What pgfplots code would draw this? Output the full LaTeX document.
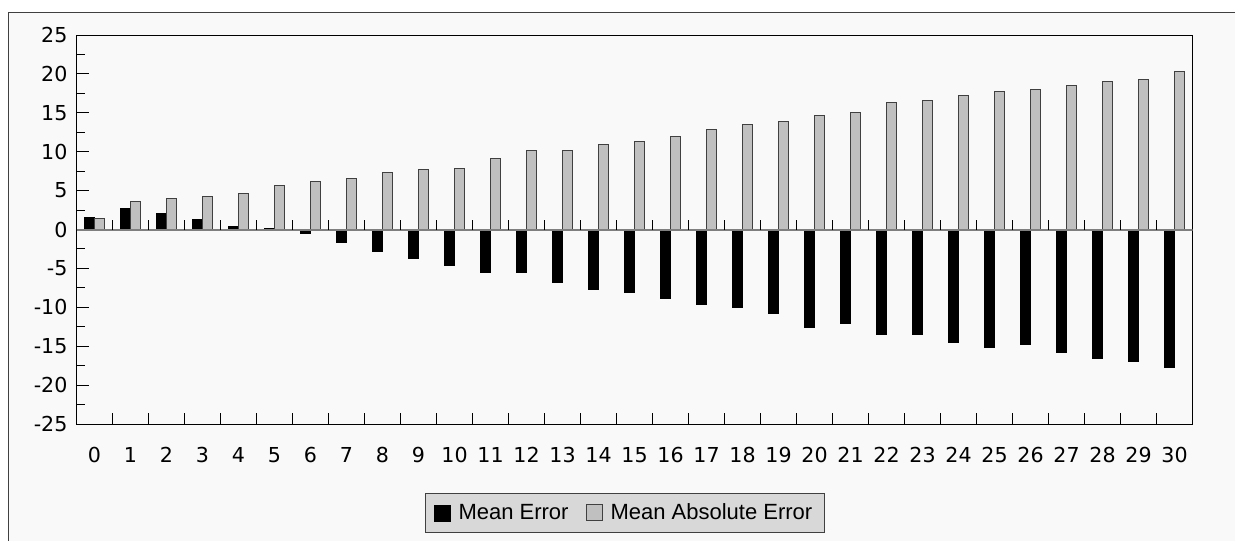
\documentclass[border=0pt]{standalone}
\usepackage{pgfplots}
\usepackage{pgfplotstable}
\pgfplotsset{compat=1.18}
\usepackage{fontspec}
\setmainfont{DejaVu Sans}
\newfontfamily\legendfont{Liberation Sans}
\definecolor{bgpanel}{HTML}{F9F9F9}
\definecolor{framegray}{HTML}{404040}
\definecolor{barlight}{HTML}{C0C0C0}
\definecolor{legfill}{HTML}{D8D8D8}
\definecolor{zerogray}{HTML}{7F7F7F}
\pgfplotsset{sqlegend/.style={legend image code/.code={\draw[##1] (0pt,-4pt) rectangle (8pt,4pt);}}}

\pgfplotstableread{
x me mae
0 1.50 1.45
1 2.74 3.60
2 2.06 4.03
3 1.24 4.29
4 0.39 4.67
5 0.15 5.66
6 -0.51 6.17
7 -1.63 6.60
8 -2.87 7.29
9 -3.73 7.67
10 -4.59 7.89
11 -5.57 9.17
12 -5.57 10.12
13 -6.86 10.20
14 -7.76 10.89
15 -8.10 11.27
16 -8.83 12.00
17 -9.69 12.90
18 -10.03 13.46
19 -10.84 13.89
20 -12.52 14.66
21 -12.04 15.09
22 -13.54 16.37
23 -13.54 16.63
24 -14.53 17.27
25 -15.13 17.79
26 -14.79 18.00
27 -15.82 18.56
28 -16.63 19.07
29 -16.93 19.25
30 -17.66 20.32
}\errtable

\begin{document}
\begin{tikzpicture}
% page = 1235x540 px, 1px = 0.5pt, origin at top left
\path[use as bounding box] (0,0) rectangle (617.5pt,-270pt);
\fill[white] (0,0) rectangle (617.5pt,-270pt);
\draw[framegray, fill=bgpanel, line width=0.5pt] (4pt,-6.5pt) rectangle (630pt,-285pt);
\begin{axis}[
  at={(38.25pt,-212pt)}, anchor=south west,
  scale only axis, width=558pt, height=194.5pt,
  xmin=-0.5, xmax=30.5, ymin=-25, ymax=25,
  axis line style={black, line width=0.5pt},
  xtick={0,...,30}, major x tick style={draw=none},
  minor xtick={0.5,1.5,...,29.5},
  minor x tick style={/pgfplots/minor tick length=5.5pt},
  ytick={-25,-20,...,25}, minor y tick num=1,
  xtick pos=bottom, ytick pos=left, tick align=inside,
  major tick length=6pt, minor tick length=4pt,
  tick style={black, line width=0.5pt},
  /pgf/number format/assume math mode=true,
  ticklabel style={font=\fontsize{10.3}{12}\selectfont},
  xticklabel style={yshift=-8pt},
  yticklabel style={xshift=-1pt},
  legend columns=-1,
  legend style={at={(0.4915,-0.1774)}, anchor=north,
    draw=framegray, fill=legfill, line width=0.5pt,
    font=\legendfont\fontsize{11}{13}\selectfont,
    inner xsep=4pt, inner ysep=3pt,
    /tikz/every odd column/.append style={column sep=2pt},
    /tikz/every even column/.append style={column sep=6.5pt}},
]
\addplot[ybar, bar width=0.29, bar shift=-0.145, fill=black, draw=black, line width=0.4pt, sqlegend]
  table[x=x, y=me] {\errtable};
\addlegendentry{Mean Error}
\addplot[ybar, bar width=0.29, bar shift=0.145, fill=barlight, draw=framegray, line width=0.5pt, sqlegend]
  table[x=x, y=mae] {\errtable};
\addlegendentry{Mean Absolute Error}
\draw[zerogray, line width=1pt] (axis cs:-0.5,0) -- (axis cs:30.5,0);
\pgfplotsinvokeforeach{0,...,29}{
  \draw[black, line width=0.5pt] (axis cs:#1.5,0) -- ([yshift=5pt]axis cs:#1.5,0);
}
\end{axis}
\end{tikzpicture}
\end{document}
